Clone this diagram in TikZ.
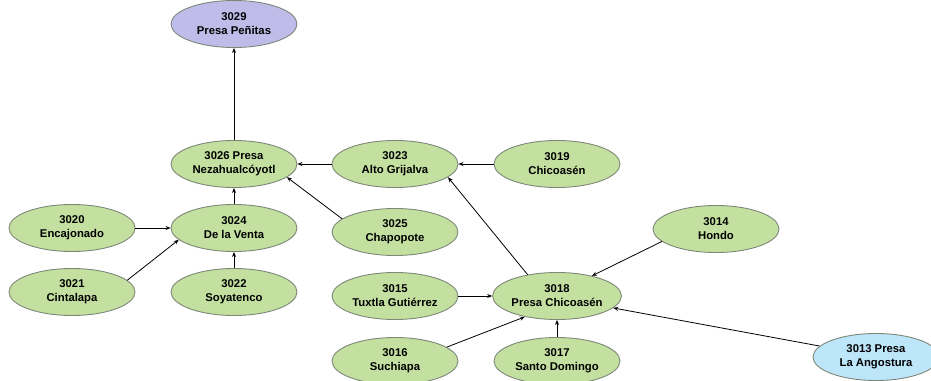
\documentclass[tikz,border=0pt]{standalone}
\usepackage{fontspec}
\setmainfont{Liberation Sans}
\usetikzlibrary{shapes.geometric,arrows.meta}
\definecolor{greenfill}{RGB}{196,224,160}
\definecolor{purplefill}{RGB}{192,188,234}
\definecolor{bluefill}{RGB}{190,230,251}
\definecolor{rim}{RGB}{125,135,120}
\tikzset{
  px/.style={x=1pt,y=-1pt},
  station/.style={ellipse,draw=rim,line width=0.9pt,fill=greenfill,
    minimum width=126pt,minimum height=47pt,inner sep=0pt,align=center,
    font=\bfseries\fontsize{11.3}{14}\selectfont},
  dam/.style={station,fill=purplefill},
  lake/.style={station,fill=bluefill},
  flow/.style={-{Stealth[length=5pt,width=4pt]},line width=0.8pt,black}
}
\begin{document}
\begin{tikzpicture}[px]
\useasboundingbox (0,0) rectangle (931,380);
\node[dam]     (n3029) at (234,24)  {3029\\Presa Peñitas};
\node[station] (n3026) at (234,164) {3026 Presa\\Nezahualcóyotl};
\node[station] (n3023) at (395,164) {3023\\Alto Grijalva};
\node[station] (n3019) at (557,164) {3019\\Chicoasén};
\node[station] (n3020) at (72,228)  {3020\\Encajonado};
\node[station] (n3024) at (234,228) {3024\\De la Venta};
\node[station] (n3025) at (395,232) {3025\\Chapopote};
\node[station] (n3014) at (716,229) {3014\\Hondo};
\node[station] (n3021) at (72,292)  {3021\\Cintalapa};
\node[station] (n3022) at (234,292) {3022\\Soyatenco};
\node[station] (n3015) at (395,296) {3015\\Tuxtla Gutiérrez};
\node[station] (n3018) at (557,296) {3018\\Presa Chicoasén};
\node[station] (n3016) at (395,361) {3016\\Suchiapa};
\node[station] (n3017) at (557,361) {3017\\Santo Domingo};
\node[lake]    (n3013) at (876,357) {3013 Presa\\La Angostura};

\draw[flow] (n3026) -- (n3029);
\draw[flow] (n3023) -- (n3026);
\draw[flow] (n3019) -- (n3023);
\draw[flow] (n3025.166) -- (n3026.-14);
\draw[flow] (n3024) -- (n3026);
\draw[flow] (n3020) -- (n3024);
\draw[flow] (n3021.12) -- (n3024.-168);
\draw[flow] (n3022) -- (n3024);
\draw[flow] (n3018.144) -- (n3023.-14);
\draw[flow] (n3014.-167) -- (n3018.30);
\draw[flow] (n3015) -- (n3018);
\draw[flow] (n3016.15) -- (n3018.-147);
\draw[flow] (n3017) -- (n3018);
\draw[flow] (n3013.169) -- (n3018.-12);
\end{tikzpicture}
\end{document}
